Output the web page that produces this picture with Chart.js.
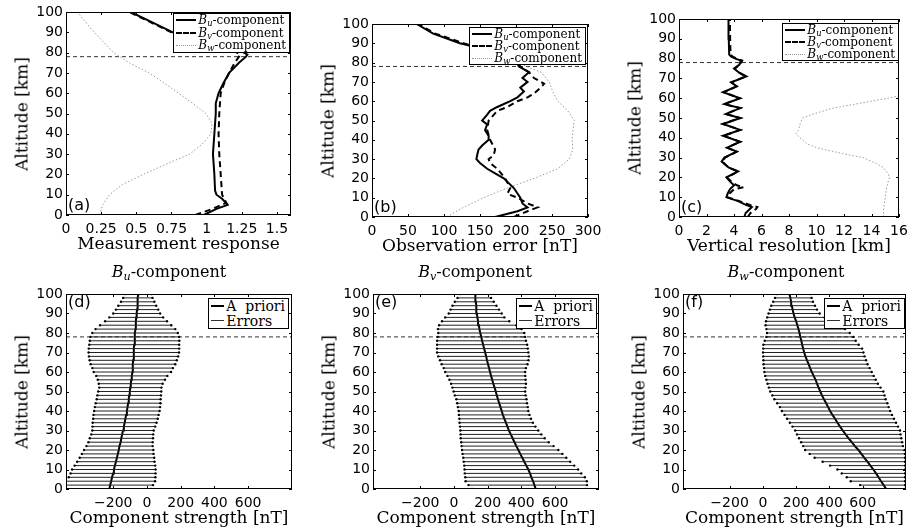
<!DOCTYPE html>
<html>
<head>
<meta charset="utf-8">
<script src="https://cdn.jsdelivr.net/npm/chart.js@4.4.0/dist/chart.umd.min.js"></script>
<style>
  html, body { margin: 0; padding: 0; background: #fff; overflow: hidden; }
  body { width: 910px; height: 532px; position: relative; }
  canvas { position: absolute; }
  .legend { position: absolute; background: #fff; border: 1px solid #000; font-family: "DejaVu Serif", serif; color: #000; padding: 0 3px 0 2px; }
  .legend .row { display: flex; align-items: center; white-space: nowrap; }
  .legend .sample { display: inline-block; height: 0; margin-right: 2px; }
  .title { position: absolute; font: 16px/16px "DejaVu Serif", serif; transform: translateX(-50%); white-space: nowrap; color: #000; }
  .axt { position: absolute; font: 17px/17px "DejaVu Serif", serif; white-space: nowrap; color: #000; }
  sub { font-size: 0.7em; vertical-align: -0.25em; line-height: 0; }
</style>
</head>
<body>
<script>
// --- top row: (a) measurement response, (b) observation error [nT], (c) vertical resolution [km]
const respAltU = [0, 3, 5, 8, 10, 12, 20, 30, 40, 50, 55, 60, 65, 70, 75, 78, 79, 81, 85, 90, 95, 100];
const respU = [0.98, 1.07, 1.15, 1.11, 1.07, 1.06, 1.055, 1.045, 1.055, 1.065, 1.065, 1.085, 1.12, 1.16, 1.23, 1.28, 1.29, 1.24, 1.02, 0.76, 0.61, 0.46];
const respAltV = [0, 3, 6, 10, 20, 30, 40, 50, 60, 65, 70, 75, 78, 79, 81, 85, 90, 95, 100];
const respV = [0.92, 1.04, 1.14, 1.11, 1.10, 1.09, 1.085, 1.09, 1.10, 1.125, 1.16, 1.20, 1.23, 1.24, 1.19, 0.99, 0.75, 0.60, 0.45];
const respAltW = [0, 5, 10, 15, 20, 25, 30, 35, 40, 45, 50, 55, 60, 65, 70, 75, 80, 85, 90, 95, 100];
const respW = [0.24, 0.26, 0.31, 0.40, 0.55, 0.71, 0.88, 0.97, 1.03, 1.04, 0.995, 0.90, 0.80, 0.70, 0.59, 0.45, 0.34, 0.27, 0.20, 0.14, 0.08];

const obsAltU = [0, 3, 5, 7, 10, 15, 20, 22, 25, 28, 30, 32, 35, 37, 40, 42, 45, 48, 50, 53, 55, 57, 60, 62, 65, 67, 70, 72, 75, 78, 80, 82, 85, 87, 90, 95, 100];
const obsU = [171, 202, 216, 209, 206, 197, 183, 174, 160, 150, 145, 146, 148, 153, 162, 162, 157, 160, 153, 160, 164, 174, 192, 202, 211, 206, 216, 209, 218, 204, 201, 195, 175, 155, 122, 85, 62];
const obsAltV = [0, 3, 5, 7, 10, 12, 15, 20, 25, 28, 30, 32, 35, 40, 45, 50, 55, 57, 60, 62, 64, 67, 69, 72, 75, 78, 80, 85, 90, 95, 100];
const obsV = [197, 216, 230, 216, 202, 188, 192, 185, 174, 164, 162, 169, 171, 164, 160, 162, 174, 188, 202, 216, 225, 234, 239, 225, 218, 206, 203, 178, 127, 88, 64];
const obsAltW = [0, 5, 10, 15, 20, 25, 30, 35, 40, 45, 50, 55, 60, 65, 70, 75, 77, 80, 85, 90, 95, 100];
const obsW = [104, 127, 155, 188, 225, 258, 274, 279, 278, 279, 281, 272, 258, 251, 246, 235, 221, 202, 170, 125, 87, 60];

const resAltU = [0, 2, 4, 5, 6, 8, 10, 12, 14, 16, 18, 20, 23, 25, 28, 30, 33, 35, 38, 41, 44, 47, 50, 52, 55, 57, 60, 63, 66, 68, 71, 73, 75, 77, 79, 80, 81, 82, 90, 100];
const resU = [4.75, 4.85, 5.15, 5.3, 4.9, 4.3, 3.45, 3.55, 3.7, 4.0, 3.7, 3.45, 4.3, 3.6, 3.1, 3.3, 4.2, 3.5, 4.45, 3.2, 4.45, 3.2, 4.45, 3.4, 4.45, 3.3, 4.45, 3.2, 4.2, 3.8, 4.9, 4.35, 4.0, 4.4, 4.5, 4.1, 3.8, 3.65, 3.62, 3.6];
const resAltV = [0, 2, 4, 5, 6, 8, 10, 12, 14, 15, 16, 18, 20, 23, 25, 28, 30, 33, 35, 38, 41, 44, 47, 50, 52, 55, 57, 60, 63, 66, 68, 71, 73, 75, 77, 79, 80, 81, 82, 90, 100];
const resV = [5.0, 5.2, 5.6, 5.7, 5.2, 4.4, 3.5, 3.7, 4.0, 4.7, 4.2, 3.8, 3.5, 4.3, 3.6, 3.15, 3.35, 4.2, 3.5, 4.45, 3.25, 4.45, 3.2, 4.45, 3.4, 4.45, 3.3, 4.4, 3.25, 4.2, 3.8, 4.85, 4.35, 4.05, 4.45, 4.6, 4.2, 3.9, 3.75, 3.72, 3.7];
const resAltW = [0, 5, 10, 15, 20, 22, 25, 27, 30, 32, 35, 37, 40, 42, 44, 47, 50, 52, 55, 58, 60, 62];
const resW = [14.85, 14.9, 15.0, 15.1, 15.3, 15.2, 14.85, 14.35, 13.4, 11.9, 10.0, 9.3, 8.8, 8.5, 8.7, 8.8, 9.0, 9.75, 11.2, 13.6, 15.2, 16.6];

// --- bottom row: a priori profiles with error bars [nT]
const barAlt = [0, 2, 4, 6, 8, 10, 12, 14, 16, 18, 20, 22, 24, 26, 28, 30, 32, 34, 36, 38, 40, 42, 44, 46, 48, 50,
  52, 54, 56, 58, 60, 62, 64, 66, 68, 70, 72, 74, 76, 78, 80, 82, 84, 86, 88, 90, 92, 94, 96, 98, 100];

const aprioriU = [-223, -218, -212, -207, -201, -196, -190, -184, -178, -173, -167, -163, -156, -152, -147, -142, -137, -132, -128, -124, -119, -115, -112, -108, -106, -102,
  -99, -96, -93, -90, -86, -85, -83, -82, -79, -78, -77, -76, -73, -72, -71, -68, -67, -65, -64, -61, -59, -57, -55, -54, -51];
const errLoU = [-480, -486, -488, -464, -453, -444, -429, -414, -399, -386, -373, -359, -347, -339, -330, -324, -323, -322, -319, -317, -313, -309, -304, -298, -294, -289,
  -283, -286, -292, -301, -316, -324, -334, -340, -344, -346, -345, -342, -339, -335, -324, -305, -278, -248, -223, -200, -184, -170, -154, -141, -128];
const errHiU = [25, 36, 48, 50, 51, 51, 49, 45, 43, 39, 38, 34, 34, 36, 37, 40, 49, 57, 64, 69, 75, 78, 80, 81, 83, 85,
  86, 93, 107, 121, 143, 154, 168, 177, 185, 190, 191, 191, 192, 191, 183, 168, 144, 119, 96, 78, 67, 55, 44, 33, 25];

const aprioriV = [485, 477, 469, 459, 451, 441, 429, 417, 405, 393, 382, 370, 359, 348, 337, 326, 317, 308, 299, 290, 283, 276, 268, 261, 254, 248,
  241, 233, 227, 220, 214, 208, 202, 196, 191, 185, 179, 173, 167, 162, 156, 151, 148, 143, 139, 136, 133, 132, 130, 128, 126];
const errLoV = [107, 86, 69, 67, 64, 63, 61, 58, 55, 51, 48, 45, 43, 40, 39, 38, 36, 33, 32, 29, 28, 23, 19, 14, 5, -2,
  -9, -17, -27, -39, -52, -61, -73, -83, -93, -100, -100, -100, -100, -97, -93, -95, -88, -71, -52, -31, -20, -9, 5, 21, 38];
const errHiV = [782, 789, 788, 776, 755, 736, 713, 689, 666, 643, 619, 591, 562, 538, 518, 500, 483, 468, 457, 448, 441, 438, 433, 430, 425, 422,
  424, 427, 425, 423, 422, 427, 436, 442, 444, 441, 438, 434, 427, 422, 417, 401, 371, 328, 299, 283, 267, 252, 236, 220, 205];

const aprioriW = [741, 726, 710, 695, 680, 664, 646, 628, 610, 592, 574, 553, 534, 515, 497, 480, 464, 448, 434, 418, 404, 392, 380, 367, 355, 345,
  335, 325, 317, 305, 294, 284, 275, 265, 256, 248, 242, 236, 231, 225, 220, 214, 207, 200, 191, 184, 179, 174, 170, 165, 160];
const errLoW = [613, 584, 528, 504, 474, 448, 404, 359, 311, 281, 254, 242, 230, 217, 205, 194, 178, 162, 145, 130, 114, 102, 86, 69, 57, 44,
  36, 28, 21, 14, 9, 7, 4, 3, 2, 1, 2, 3, 11, 21, 25, 21, 16, 19, 26, 34, 42, 50, 62, 73, 84];
const errHiW = [854, 854, 854, 854, 854, 854, 854, 854, 854, 854, 854, 842, 837, 832, 827, 824, 812, 800, 788, 776, 765, 756, 748, 738, 731, 724,
  707, 691, 678, 666, 654, 642, 629, 620, 611, 604, 596, 576, 558, 544, 522, 494, 444, 407, 371, 341, 325, 313, 301, 293, 284];

const tropopause = 78;

// tick labels
const altTicks = [0, 10, 20, 30, 40, 50, 60, 70, 80, 90, 100];
const respTicks = [0, 0.25, 0.5, 0.75, 1, 1.25, 1.5];
const obsTicks = [0, 50, 100, 150, 200, 250, 300];
const resTicks = [0, 2, 4, 6, 8, 10, 12, 14, 16];
const strengthTicks = [-200, 0, 200, 400, 600];

const compLabels = ['<i>B<sub>u</sub></i>-component', '<i>B<sub>v</sub></i>-component', '<i>B<sub>w</sub></i>-component'];

const SANS = 'DejaVu Sans, sans-serif';
Chart.defaults.font.family = SANS;

function profile(alt, vals) {
  return alt.map((a, i) => ({ x: vals[i], y: a }));
}

function errorBars(alt, lo, hi) {
  const out = [];
  alt.forEach((a, i) => {
    out.push({ x: lo[i], y: a }, { x: hi[i], y: a }, { x: NaN, y: NaN });
  });
  return out;
}

function lineSet(data, color, width, dash) {
  return { data: data, showLine: true, borderColor: color, borderWidth: width, borderDash: dash || [], pointRadius: 0, tension: 0 };
}

function tropoSet(xmin, xmax) {
  return lineSet([{ x: xmin, y: tropopause }, { x: xmax, y: tropopause }], '#333', 1, [4, 3]);
}

// box, inward ticks and panel letter
const framePlugin = {
  id: 'frame',
  afterDatasetsDraw(chart, args, opts) {
    const { ctx, chartArea: a, scales } = chart;
    ctx.save();
    ctx.strokeStyle = '#000';
    ctx.lineWidth = 1;
    ctx.strokeRect(a.left + 0.5, a.top + 0.5, a.right - a.left - 1, a.bottom - a.top - 1);
    ctx.beginPath();
    scales.x.ticks.forEach(t => {
      const x = Math.round(scales.x.getPixelForValue(t.value)) + 0.5;
      ctx.moveTo(x, a.bottom); ctx.lineTo(x, a.bottom - 3);
      ctx.moveTo(x, a.top); ctx.lineTo(x, a.top + 3);
    });
    scales.y.ticks.forEach(t => {
      const y = Math.round(scales.y.getPixelForValue(t.value)) + 0.5;
      ctx.moveTo(a.left, y); ctx.lineTo(a.left + 3, y);
      ctx.moveTo(a.right, y); ctx.lineTo(a.right - 3, y);
    });
    ctx.stroke();
    ctx.fillStyle = '#000';
    ctx.font = '16px ' + SANS;
    ctx.textAlign = 'left';
    if (opts.top) {
      ctx.textBaseline = 'top';
      ctx.fillText(opts.label, a.left + 2, a.top + 1);
    } else {
      ctx.textBaseline = 'bottom';
      ctx.fillText(opts.label, a.left + 2, a.bottom - 1);
    }
    ctx.restore();
  }
};

const Y_W = 54, PAD_T = 8, PAD_R = 20, X_H = 38;

function addText(cls, html, left, top, transform) {
  const d = document.createElement('div');
  d.className = cls;
  d.style.left = left + 'px';
  d.style.top = top + 'px';
  if (transform) d.style.transform = transform;
  d.innerHTML = html;
  document.body.appendChild(d);
}

function makePanel(p) {
  const canvas = document.createElement('canvas');
  const w = (p.r - p.l) + Y_W + PAD_R;
  const h = (p.b - p.t) + PAD_T + X_H;
  canvas.width = w; canvas.height = h;
  canvas.style.width = w + 'px'; canvas.style.height = h + 'px';
  canvas.style.left = (p.l - Y_W) + 'px';
  canvas.style.top = (p.t - PAD_T) + 'px';
  document.body.appendChild(canvas);

  const tickFont = { family: SANS, size: 14 };

  new Chart(canvas, {
    type: 'scatter',
    data: { datasets: p.datasets },
    options: {
      responsive: false,
      animation: false,
      devicePixelRatio: 1,
      events: [],
      layout: { padding: { top: PAD_T, right: PAD_R, left: 0, bottom: 0 } },
      plugins: { legend: { display: false }, tooltip: { enabled: false }, frame: { label: p.label, top: p.labelTop } },
      scales: {
        x: {
          type: 'linear', min: p.xmin, max: p.xmax,
          grid: { display: false, drawTicks: false }, border: { display: false },
          ticks: { padding: 6, color: '#000', font: tickFont, autoSkip: false, maxRotation: 0,
            callback: v => (v < 0 ? '\u2212' + Math.abs(v) : String(v)) },
          afterBuildTicks: s => { s.ticks = p.xTicks.map(v => ({ value: v })); },
          afterFit: s => { s.height = X_H; s.paddingLeft = 0; s.paddingRight = 0; }
        },
        y: {
          type: 'linear', min: 0, max: 100,
          grid: { display: false, drawTicks: false }, border: { display: false },
          ticks: { padding: 3, color: '#000', font: tickFont, autoSkip: false },
          afterBuildTicks: s => { s.ticks = altTicks.map(v => ({ value: v })); },
          afterFit: s => { s.width = Y_W; s.paddingTop = 0; s.paddingBottom = 0; }
        }
      }
    },
    plugins: [framePlugin]
  });

  // axis titles (serif, as in the figure)
  addText('axt', p.xTitle, (p.l + p.r) / 2, p.b + 20, 'translateX(-50%)');
  addText('axt', 'Altitude [km]', p.l - 44, (p.t + p.b) / 2, 'translate(-50%, -50%) rotate(-90deg)');
}

function addLegend(right, top, entries, fontSize, rowH, sampleW) {
  const box = document.createElement('div');
  box.className = 'legend';
  box.style.right = (910 - right) + 'px';
  box.style.top = top + 'px';
  box.style.fontSize = fontSize + 'px';
  entries.forEach(e => {
    const row = document.createElement('div');
    row.className = 'row';
    row.style.height = rowH + 'px';
    const s = document.createElement('span');
    s.className = 'sample';
    s.style.width = sampleW + 'px';
    s.style.borderTop = e.line;
    row.appendChild(s);
    const t = document.createElement('span');
    t.innerHTML = e.html;
    row.appendChild(t);
    box.appendChild(row);
  });
  document.body.appendChild(box);
}

const DOT = [1.5, 2];
const DASH = [6, 4];

// top row
makePanel({ l: 66, t: 12, r: 291, b: 215, xmin: 0, xmax: 1.6, xTicks: respTicks, xTitle: 'Measurement response', label: '(a)', labelTop: false,
  datasets: [lineSet(profile(respAltU, respU), '#000', 2), lineSet(profile(respAltV, respV), '#000', 2, DASH),
    lineSet(profile(respAltW, respW), '#9a9a9a', 1, DOT), tropoSet(0, 1.6)] });
makePanel({ l: 372, t: 24, r: 588, b: 217, xmin: 0, xmax: 300, xTicks: obsTicks, xTitle: 'Observation error [nT]', label: '(b)', labelTop: false,
  datasets: [lineSet(profile(obsAltU, obsU), '#000', 2), lineSet(profile(obsAltV, obsV), '#000', 2, DASH),
    lineSet(profile(obsAltW, obsW), '#9a9a9a', 1, DOT), tropoSet(0, 300)] });
makePanel({ l: 679, t: 19, r: 899, b: 217, xmin: 0, xmax: 16, xTicks: resTicks, xTitle: 'Vertical resolution [km]', label: '(c)', labelTop: false,
  datasets: [lineSet(profile(resAltU, resU), '#000', 2), lineSet(profile(resAltV, resV), '#000', 2, DASH),
    lineSet(profile(resAltW, resW), '#9a9a9a', 1, DOT), tropoSet(0, 16)] });

// bottom row
const SX_MIN = -480, SX_MAX = 860;
function barSet(alt, lo, hi) {
  return { data: errorBars(alt, lo, hi), showLine: true, borderColor: '#222', borderWidth: 1, tension: 0,
    pointRadius: 1.2, pointBackgroundColor: '#000', pointBorderWidth: 0 };
}
const bottom = [
  { l: 66, r: 292, label: '(d)', apr: aprioriU, lo: errLoU, hi: errHiU },
  { l: 373, r: 599, label: '(e)', apr: aprioriV, lo: errLoV, hi: errHiV },
  { l: 683, r: 906, label: '(f)', apr: aprioriW, lo: errLoW, hi: errHiW }
];
bottom.forEach(q => {
  makePanel({ l: q.l, t: 294, r: q.r, b: 489, xmin: SX_MIN, xmax: SX_MAX, xTicks: strengthTicks, xTitle: 'Component strength [nT]', label: q.label, labelTop: true,
    datasets: [barSet(barAlt, q.lo, q.hi), lineSet(profile(barAlt, q.apr), '#000', 2), tropoSet(SX_MIN, SX_MAX)] });
});

// legends
const compEntries = [
  { html: compLabels[0], line: '2px solid #000' },
  { html: compLabels[1], line: '2px dashed #000' },
  { html: compLabels[2], line: '1px dotted #999' }
];
addLegend(290, 13, compEntries, 12, 12.5, 20);
addLegend(586, 27, compEntries, 12, 12, 20);
addLegend(899, 23, compEntries, 12, 12, 20);
const aprEntries = [
  { html: 'A&nbsp;&nbsp;priori', line: '2px solid #000' },
  { html: 'Errors', line: '1px solid #333' }
];
addLegend(289, 298, aprEntries, 14, 14.5, 13);
addLegend(597, 298, aprEntries, 14, 14.5, 13);
addLegend(905, 298, aprEntries, 14, 14.5, 13);

// component titles above the bottom row
addText('title', compLabels[0], 169, 264);
addText('title', compLabels[1], 475, 264);
addText('title', compLabels[2], 786, 264);
</script>
</body>
</html>
